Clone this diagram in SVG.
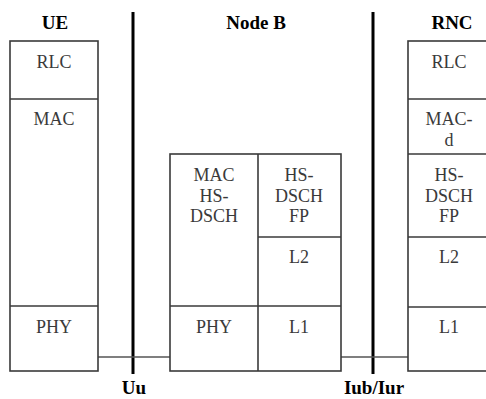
<svg xmlns="http://www.w3.org/2000/svg" width="486" height="399" viewBox="0 0 486 399">
<style>
.box{fill:#fff;stroke:#3a3a3a;stroke-width:1.6}
.div{stroke:#3a3a3a;stroke-width:1.6}
.bar{stroke:#000;stroke-width:3}
.link{stroke:#555;stroke-width:1.5}
.t{font-family:"Liberation Serif","Times New Roman","DejaVu Serif",serif;font-size:18px;fill:#3a3a3a;text-anchor:middle}
.h{font-family:"Liberation Serif","Times New Roman","DejaVu Serif",serif;font-size:19px;font-weight:bold;fill:#000;text-anchor:middle}
</style>
<rect width="486" height="399" fill="#fff"/>
<g id="connectors">
<line class="bar" x1="133" y1="12" x2="133" y2="374"/>
<line class="bar" x1="373" y1="12" x2="373" y2="374"/>
<line class="link" x1="98" y1="357" x2="170" y2="357"/>
<line class="link" x1="341" y1="357" x2="408" y2="357"/>
</g>
<g id="ue">
<rect class="box" x="10" y="41" width="88" height="330"/>
<line class="div" x1="10" y1="99" x2="98" y2="99"/>
<line class="div" x1="10" y1="306" x2="98" y2="306"/>
<text class="h" x="55" y="29">UE</text>
<text class="t" x="54" y="68">RLC</text>
<text class="t" x="54" y="125">MAC</text>
<text class="t" x="54" y="333">PHY</text>
</g>
<g id="nodeb">
<rect class="box" x="170" y="154" width="171" height="217"/>
<line class="div" x1="258" y1="154" x2="258" y2="371"/>
<line class="div" x1="258" y1="237" x2="341" y2="237"/>
<line class="div" x1="170" y1="306" x2="341" y2="306"/>
<text class="h" x="256" y="29">Node B</text>
<text class="t" x="214" y="181">MAC</text>
<text class="t" x="214" y="202">HS-</text>
<text class="t" x="214" y="222">DSCH</text>
<text class="t" x="299" y="181">HS-</text>
<text class="t" x="299" y="202">DSCH</text>
<text class="t" x="299" y="222">FP</text>
<text class="t" x="299" y="263">L2</text>
<text class="t" x="214" y="333">PHY</text>
<text class="t" x="299" y="333">L1</text>
</g>
<g id="rnc">
<rect class="box" x="408" y="41" width="90" height="330"/>
<line class="div" x1="408" y1="99" x2="486" y2="99"/>
<line class="div" x1="408" y1="154" x2="486" y2="154"/>
<line class="div" x1="408" y1="237" x2="486" y2="237"/>
<line class="div" x1="408" y1="307" x2="486" y2="307"/>
<text class="h" x="452" y="29">RNC</text>
<text class="t" x="449" y="68">RLC</text>
<text class="t" x="449" y="125">MAC-</text>
<text class="t" x="449" y="146">d</text>
<text class="t" x="449" y="181">HS-</text>
<text class="t" x="449" y="202">DSCH</text>
<text class="t" x="449" y="222">FP</text>
<text class="t" x="449" y="263">L2</text>
<text class="t" x="449" y="333">L1</text>
</g>
<g id="labels">
<text class="h" x="134" y="394">Uu</text>
<text class="h" x="374" y="394">Iub/Iur</text>
</g>
</svg>
